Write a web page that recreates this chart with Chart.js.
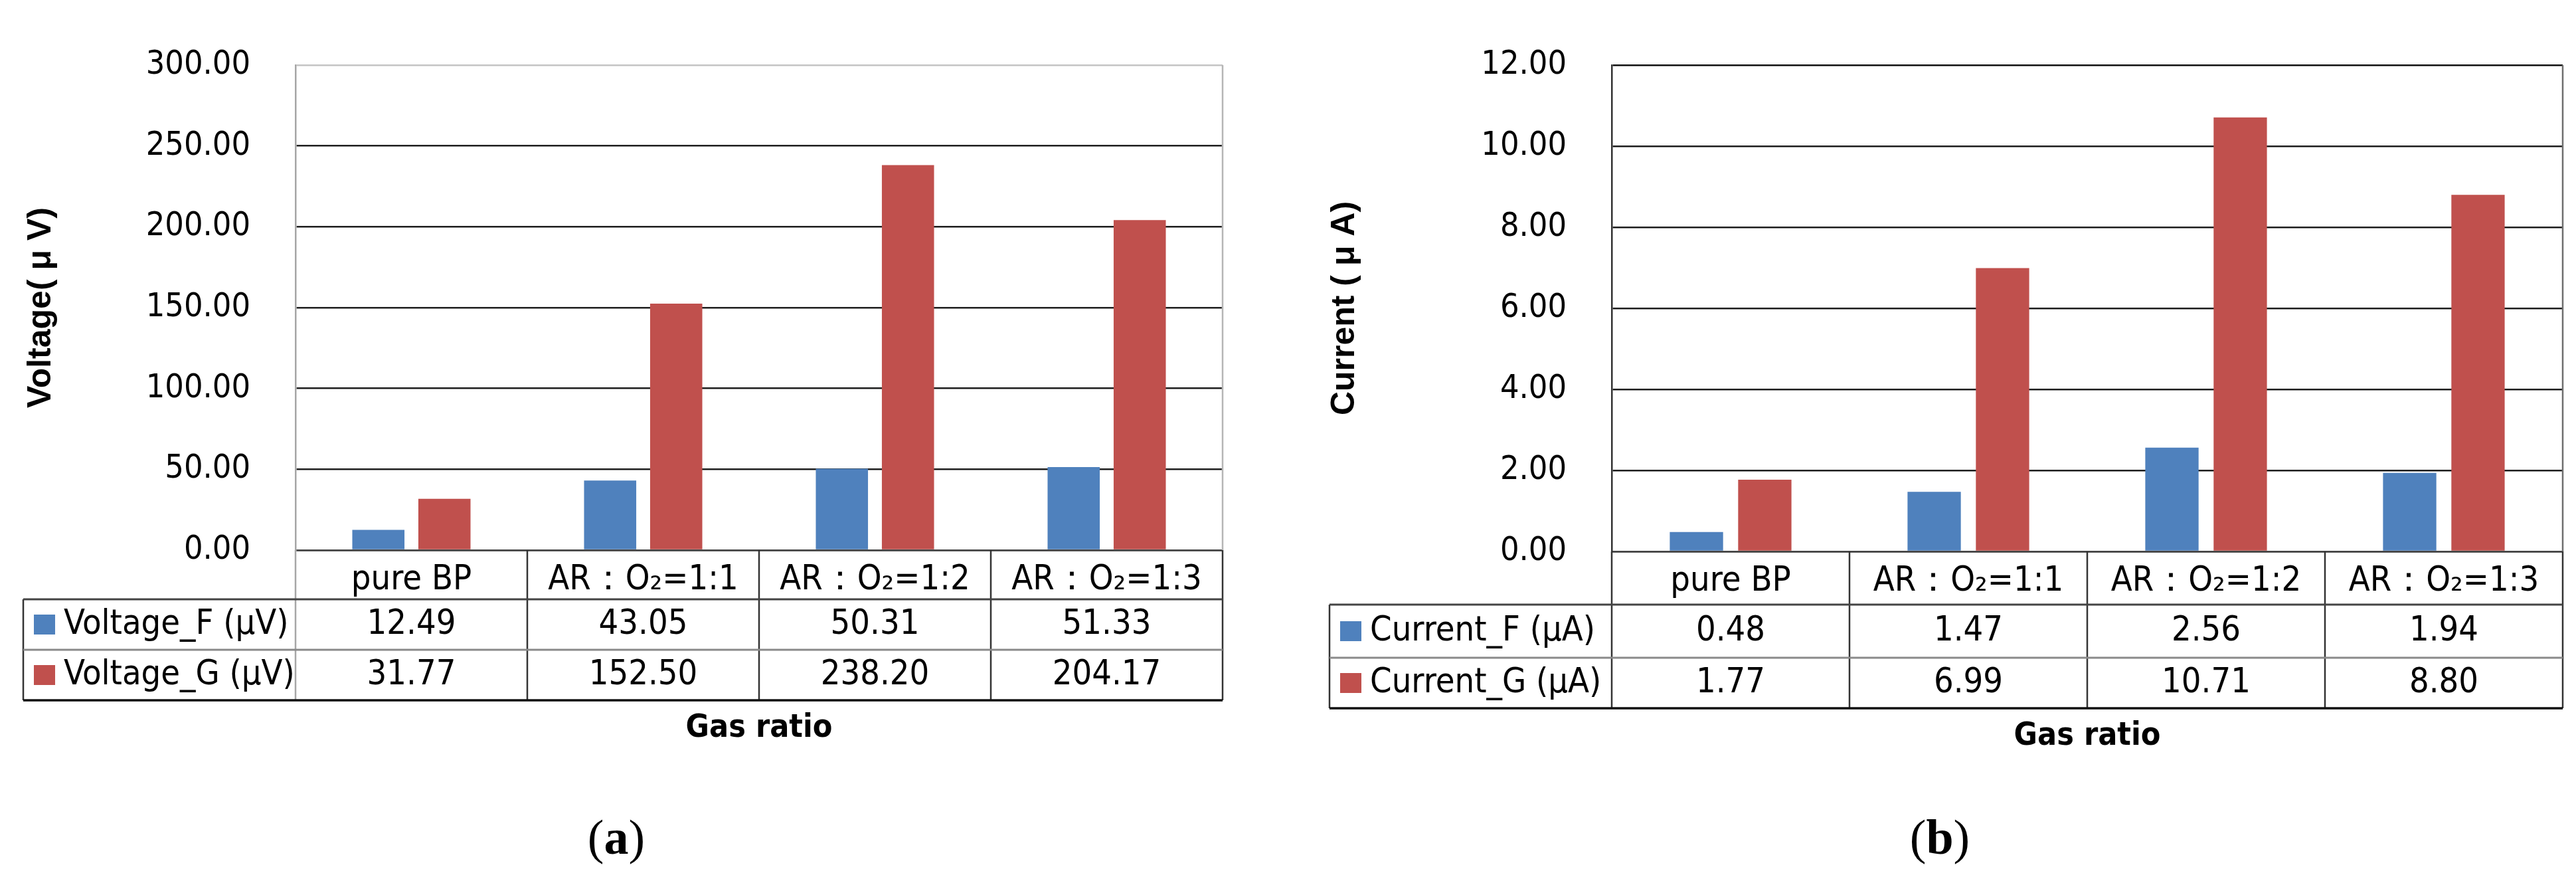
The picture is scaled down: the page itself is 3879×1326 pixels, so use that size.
<!DOCTYPE html>
<html>
<head>
<meta charset="utf-8">
<script src="https://cdn.jsdelivr.net/npm/chart.js@4/dist/chart.umd.min.js"></script>
<style>
body { margin: 0; background: #fff; width: 3879px; height: 1326px; position: relative; overflow: hidden; }
canvas { position: absolute; top: 0; }
.cap { position: absolute; top: 1218px; font-family: 'Liberation Serif', serif; font-size: 74px; transform: translateX(-50%); color: #000; }
</style>
</head>
<body>
<canvas id="chartV" width="1900" height="1200" style="left:0"></canvas>
<canvas id="chartC" width="1939" height="1200" style="left:1940px"></canvas>
<div class="cap" style="left:928px">(<b>a</b>)</div>
<div class="cap" style="left:2921px">(<b>b</b>)</div>
<script>
const categorias = ["pure BP", "AR：O₂=1:1", "AR：O₂=1:2", "AR：O₂=1:3"];
const voltageF = [12.49, 43.05, 50.31, 51.33];
const voltageG = [31.77, 152.50, 238.20, 204.17];
const currentF = [0.48, 1.47, 2.56, 1.94];
const currentG = [1.77, 6.99, 10.71, 8.80];
const voltageMax = 300, voltageStep = 50;
const currentMax = 12, currentStep = 2;

const azul = "#4F81BD";
const vermelho = "#C0504D";
const fonte = "'Liberation Sans Narrow', 'DejaVu Sans Condensed', sans-serif";

// desenha a tabela de dados abaixo do eixo x
const tabela = {
  id: "tabela",
  afterDraw(chart, args, opts) {
    const ctx = chart.ctx;
    const area = chart.chartArea;
    const x = chart.scales.x;
    const n = chart.data.labels.length;
    const w = (area.right - area.left) / n;
    const y0 = area.bottom;
    const y1 = y0 + opts.rowH[0];
    const y2 = y1 + opts.rowH[1];
    const y3 = y2 + opts.rowH[2];

    function linha(xa, ya, xb, yb, cor, lw) {
      ctx.beginPath();
      ctx.strokeStyle = cor;
      ctx.lineWidth = lw || 2.5;
      ctx.moveTo(xa, ya);
      ctx.lineTo(xb, yb);
      ctx.stroke();
    }

    ctx.save();
    linha(area.right, area.top, area.right, area.bottom, opts.frame);
    for (let i = 0; i <= n; i++) {
      const px = area.left + i * w;
      linha(px, y0, px, y3, i == 0 ? opts.leftLine : "#333");
    }
    linha(opts.left, y1, opts.left, y3, "#333");
    linha(opts.left, y1, area.right, y1, "#444", 3);
    linha(opts.left, y2, area.right, y2, "#8a8a8a", 3);
    linha(opts.left, y3, area.right, y3, "#111", 3.5);

    ctx.font = "52px " + fonte;
    ctx.textBaseline = "middle";
    chart.data.datasets.forEach((ds, k) => {
      const yc = k == 0 ? (y1 + y2) / 2 : (y2 + y3) / 2;
      ctx.fillStyle = ds.backgroundColor;
      ctx.fillRect(opts.left + 16, yc - 15, 32, 30);
      ctx.fillStyle = "#000";
      ctx.textAlign = "left";
      ctx.fillText(ds.label, opts.left + 61, yc);
      ctx.textAlign = "center";
      ds.data.forEach((v, i) => {
        ctx.fillText(v.toFixed(2), x.getPixelForValue(i), yc);
      });
    });
    ctx.restore();
  }
};

function criarGrafico(id, cfg) {
  const ctx = document.getElementById(id);
  return new Chart(ctx, {
    type: "bar",
    data: {
      labels: categorias,
      datasets: [
        { label: cfg.nomes[0], data: cfg.f, backgroundColor: azul },
        { label: cfg.nomes[1], data: cfg.g, backgroundColor: vermelho },
      ],
    },
    plugins: [tabela],
    options: {
      responsive: false,
      animation: false,
      devicePixelRatio: 1,
      categoryPercentage: cfg.catPct,
      barPercentage: cfg.barPct,
      layout: { padding: { left: 0, top: cfg.top, right: cfg.right, bottom: 0 } },
      plugins: {
        legend: { display: false },
        tooltip: { enabled: false },
        tabela: { rowH: cfg.rowH, left: cfg.tableLeft, frame: cfg.frame, leftLine: cfg.leftLine },
      },
      scales: {
        x: {
          afterFit: (s) => { s.height = cfg.xHeight; },
          grid: { display: false },
          border: { color: "#444", width: 2.5 },
          ticks: {
            color: "#000",
            font: { family: fonte, size: 52 },
            padding: 6,
            maxRotation: 0,
            autoSkip: false,
          },
          title: {
            display: true,
            text: "Gas ratio",
            color: "#000",
            font: { family: fonte, size: 48, weight: "bold" },
            padding: { top: 0, bottom: cfg.xTitlePad },
          },
        },
        y: {
          min: 0,
          max: cfg.max,
          afterFit: (s) => { s.width = cfg.yWidth; },
          grid: {
            drawTicks: false,
            lineWidth: 2.5,
            color: (c) => (c.tick.value == cfg.max ? cfg.topLine : "#1e1e1e"),
          },
          border: { color: cfg.leftLine, width: 2.5 },
          ticks: {
            stepSize: cfg.step,
            padding: 68,
            color: "#000",
            font: { family: fonte, size: 50 },
            callback: (v) => v.toFixed(2),
          },
          title: {
            display: true,
            text: cfg.titulo,
            color: "#000",
            font: { family: "'Liberation Sans', Arial, sans-serif", size: 50, weight: "bold" },
            padding: { top: cfg.yTitlePad, bottom: 0 },
          },
        },
      },
    },
  });
}

criarGrafico("chartV", {
  nomes: ["Voltage_F (μV)", "Voltage_G (μV)"],
  f: voltageF,
  g: voltageG,
  max: voltageMax,
  step: voltageStep,
  titulo: "Voltage( μ V)",
  catPct: 0.57,
  barPct: 0.79,
  top: 79,
  right: 59,
  xHeight: 372,
  xTitlePad: 75,
  yWidth: 445,
  yTitlePad: 32,
  rowH: [74, 76, 76],
  tableLeft: 35,
  frame: "#b5b5b5",
  topLine: "#c4c4c4",
  leftLine: "#a6a6a6",
});

criarGrafico("chartC", {
  nomes: ["Current_F (μA)", "Current_G (μA)"],
  f: currentF,
  g: currentG,
  max: currentMax,
  step: currentStep,
  titulo: "Current ( μ A)",
  catPct: 0.575,
  barPct: 0.78,
  top: 62,
  right: 20,
  xHeight: 370,
  xTitlePad: 63,
  yWidth: 487,
  yTitlePad: 55,
  rowH: [80, 80, 76],
  tableLeft: 62,
  frame: "#6e6e6e",
  topLine: "#111",
  leftLine: "#333",
});
</script>
</body>
</html>
